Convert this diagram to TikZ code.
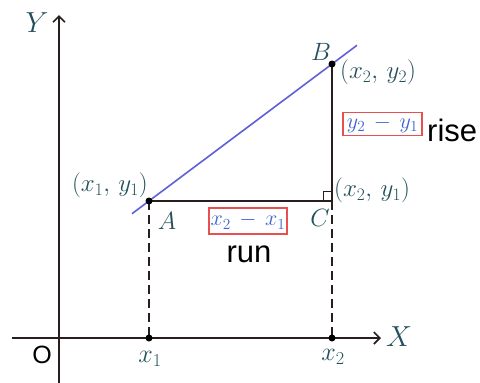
\RequirePackage{fix-cm}
\documentclass[tikz,border=0pt]{standalone}
\usepackage{fontspec}
\newfontfamily\lsans{Liberation Sans}
\usetikzlibrary{arrows.meta,calc}
\definecolor{mtxt}{RGB}{35,80,90}
\definecolor{boxred}{RGB}{232,80,80}
\definecolor{boxtxt}{RGB}{60,100,210}
\definecolor{slope}{RGB}{95,95,215}
\definecolor{axis}{RGB}{40,30,30}
\tikzset{
  ax/.style={line width=1.6pt, draw=axis, -{Straight Barb[length=6pt,width=12pt,line width=1.6pt]}},
  seg/.style={line width=1.6pt, draw=axis},
  dsh/.style={line width=1.6pt, draw=axis, dash pattern=on 9pt off 5pt},
  pt/.style={circle, fill=black, inner sep=0pt, minimum size=7pt},
  mlab/.style={text=mtxt, font=\fontsize{25}{30}\selectfont, inner sep=0pt},
  blab/.style={text=mtxt, font=\fontsize{25}{30}\selectfont, inner sep=0pt},
  rbox/.style={draw=boxred, line width=1.6pt, text=boxtxt, fill=white, font=\fontsize{22}{26}\selectfont, inner sep=0pt, minimum height=23pt},
  word/.style={text=black, font=\lsans\fontsize{31}{35}\selectfont, inner sep=0pt},
}
\begin{document}
\begin{tikzpicture}[x=1pt,y=-1pt]
\useasboundingbox[fill=white] (0,0) rectangle (480,383);
% key points
\coordinate (A) at (149,201);
\coordinate (B) at (332,64);
\coordinate (C) at (332,201);
\coordinate (X1) at (149,338);
\coordinate (X2) at (332,338);
\coordinate (Lstart) at (132,213.7);
\coordinate (Lend) at (357,45.3);
\coordinate (xs) at (12,338);
\coordinate (xe) at (381,338);
\coordinate (ys) at (59,383);
\coordinate (ye) at (59,15);
\coordinate (RA1) at (323,201);
\coordinate (RA2) at (332,191);
% axes
\draw[ax] (xs) -- (xe);
\draw[ax] (ys) -- (ye);
% slope line
\draw[line width=1.6pt, slope] (Lstart) -- (Lend);
% triangle
\draw[seg] (A) -- (C) -- (B);
\draw[dsh] (A) -- (X1);
\draw[dsh] (C) -- (X2);
% right angle
\draw[line width=1pt, axis] (RA1) |- (RA2);
% points
\node[pt] (pA) at (A) {};
\node[pt] (pB) at (B) {};
\node[pt] (pX1) at (X1) {};
\node[pt] (pX2) at (X2) {};
% labels
\node[blab, font=\fontsize{29}{34}\selectfont] (lY) at (37,23) {$Y$};
\node[blab, font=\fontsize{29}{34}\selectfont] (lX) at (399,337) {$X$};
\node[word, font=\lsans\fontsize{25}{30}\selectfont] (lO) at (42,355) {O};
\node[mlab, font=\fontsize{26}{30}\selectfont] (lx1) at (150,359) {$x_1$};
\node[mlab, font=\fontsize{26}{30}\selectfont] (lx2) at (333,357) {$x_2$};
\node[blab] (lA) at (167,221) {$A$};
\node[blab] (lB) at (321,52) {$B$};
\node[blab] (lC) at (320,218) {$C$};
\node[mlab, anchor=east] (l1) at (148,185) {$(x_1,\,y_1)$};
\node[mlab, anchor=west] (l2) at (340,72) {$(x_2,\,y_2)$};
\node[mlab, anchor=west] (l3) at (334,190) {$(x_2,\,y_1)$};
\node[rbox, minimum width=79pt] (rise) at (382.5,124) {$y_2\,-\,y_1$};
\node[word, anchor=west] (wrise) at (427,130) {rise};
\node[rbox, minimum width=78pt, minimum height=26pt] (run) at (248,221) {$x_2\,-\,x_1$};
\node[word] (wrun) at (249,254) {run};
\end{tikzpicture}
\end{document}
